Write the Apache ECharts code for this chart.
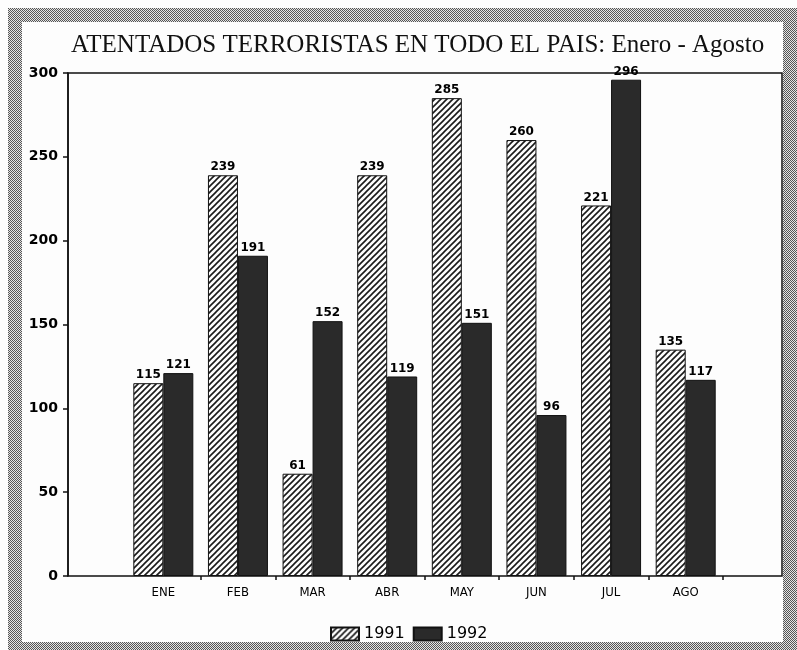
<!DOCTYPE html>
<html>
<head>
<meta charset="utf-8">
<script src="https://cdn.jsdelivr.net/npm/echarts@6/dist/echarts.min.js"></script>
<style>
    html, body { margin: 0; padding: 0; background: #fdfdfd; }
    #chart { width: 797px; height: 650px; }
</style>
</head>
<body>
<div id="chart"></div>
<script>
    // data
    const months = ['ENE', 'FEB', 'MAR', 'ABR', 'MAY', 'JUN', 'JUL', 'AGO']
    const year1991 = [115, 239, 61, 239, 285, 260, 221, 135]
    const year1992 = [121, 191, 152, 119, 151, 96, 296, 117]
    const seriesNames = ['1991', '1992']
    const yMax = 300
    const yStep = 50

    // diagonal hatch for 1991
    function hatchPattern() {
        let c = document.createElement('canvas')
        c.width = 6
        c.height = 6
        let ctx = c.getContext('2d')
        ctx.fillStyle = '#fdfdfd'
        ctx.fillRect(0, 0, 6, 6)
        ctx.strokeStyle = '#1a1a1a'
        ctx.lineWidth = 1.6
        ctx.beginPath()
        ctx.moveTo(-1, 7); ctx.lineTo(7, -1)
        ctx.moveTo(-4, 4); ctx.lineTo(4, -4)
        ctx.moveTo(2, 10); ctx.lineTo(10, 2)
        ctx.stroke()
        return {image: c, repeat: 'repeat'}
    }

    // fine dotted texture for the frame
    function dotPattern() {
        let c = document.createElement('canvas')
        c.width = 2
        c.height = 2
        let ctx = c.getContext('2d')
        ctx.fillStyle = '#e4e4e4'
        ctx.fillRect(0, 0, 2, 2)
        ctx.fillStyle = '#555'
        ctx.fillRect(0, 0, 1, 1)
        ctx.fillRect(1, 1, 1, 1)
        return {image: c, repeat: 'repeat'}
    }

    const hatch = hatchPattern()
    const dots = dotPattern()
    const labelFont = {
        show: true,
        position: 'top',
        distance: 2,
        color: '#000',
        fontFamily: 'DejaVu Sans',
        fontSize: 12,
        fontWeight: 'bold'
    }

    let myChart = echarts.init(document.getElementById('chart'))
    let option = {
        backgroundColor: '#fdfdfd',
        animation: false,
        title: {
            text: 'ATENTADOS TERRORISTAS EN TODO EL PAIS: Enero - Agosto',
            left: 66,
            top: 28,
            textStyle: {
                fontFamily: 'Liberation Serif',
                fontSize: 25,
                fontWeight: 'normal',
                color: '#111'
            }
        },
        legend: {
            left: 325,
            top: 621,
            itemWidth: 28,
            itemHeight: 13,
            itemGap: 8,
            icon: 'rect',
            data: seriesNames,
            textStyle: {
                fontFamily: 'DejaVu Sans',
                fontSize: 16,
                color: '#000'
            }
        },
        graphic: [
            {type: 'rect', z: 100, shape: {x: 8, y: 8, width: 789, height: 14}, style: {fill: dots}},
            {type: 'rect', z: 100, shape: {x: 8, y: 8, width: 14, height: 642}, style: {fill: dots}},
            {type: 'rect', z: 100, shape: {x: 783, y: 8, width: 14, height: 642}, style: {fill: dots}},
            {type: 'rect', z: 100, shape: {x: 8, y: 642, width: 789, height: 8}, style: {fill: dots}}
        ],
        grid: [
            {
                // outer box with the value axis
                left: 68, right: 15, top: 73, bottom: 74,
                show: true,
                borderColor: '#111',
                borderWidth: 1.5,
                backgroundColor: 'transparent'
            },
            {
                // band area holding the bars
                left: 126, right: 74, top: 73, bottom: 74
            }
        ],
        xAxis: [
            {
                type: 'category',
                gridIndex: 0,
                data: [''],
                axisLine: {show: false},
                axisTick: {show: false},
                axisLabel: {show: false}
            },
            {
                type: 'category',
                gridIndex: 1,
                data: months,
                axisLine: {show: false},
                axisTick: {
                    show: true,
                    length: 4,
                    interval: (i) => i > 0 && i < months.length,
                    lineStyle: {color: '#111', width: 1.5}
                },
                axisLabel: {
                    margin: 10,
                    color: '#000',
                    fontFamily: 'Liberation Sans Narrow, DejaVu Sans Condensed, sans-serif',
                    fontSize: 13
                }
            }
        ],
        yAxis: [
            {
                type: 'value',
                gridIndex: 0,
                min: 0,
                max: yMax,
                interval: yStep,
                axisLine: {show: true, lineStyle: {color: '#111', width: 1.5}},
                axisTick: {show: true, length: 5, lineStyle: {color: '#111', width: 1.5}},
                splitLine: {show: false},
                axisLabel: {
                    margin: 10,
                    color: '#000',
                    fontFamily: 'DejaVu Sans',
                    fontSize: 14,
                    fontWeight: 'bold'
                }
            },
            {
                type: 'value',
                gridIndex: 1,
                min: 0,
                max: yMax,
                interval: yStep,
                show: false
            }
        ],
        series: [
            {
                name: seriesNames[0],
                type: 'bar',
                xAxisIndex: 1,
                yAxisIndex: 1,
                barWidth: 30,
                barGap: '0%',
                itemStyle: {color: hatch, borderColor: '#111', borderWidth: 1},
                label: labelFont,
                data: year1991
            },
            {
                name: seriesNames[1],
                type: 'bar',
                xAxisIndex: 1,
                yAxisIndex: 1,
                barWidth: 30,
                barGap: '0%',
                itemStyle: {color: '#2a2a2a', borderColor: '#111', borderWidth: 1},
                label: labelFont,
                data: year1992
            }
        ]
    }
    myChart.setOption(option)
</script>
</body>
</html>
